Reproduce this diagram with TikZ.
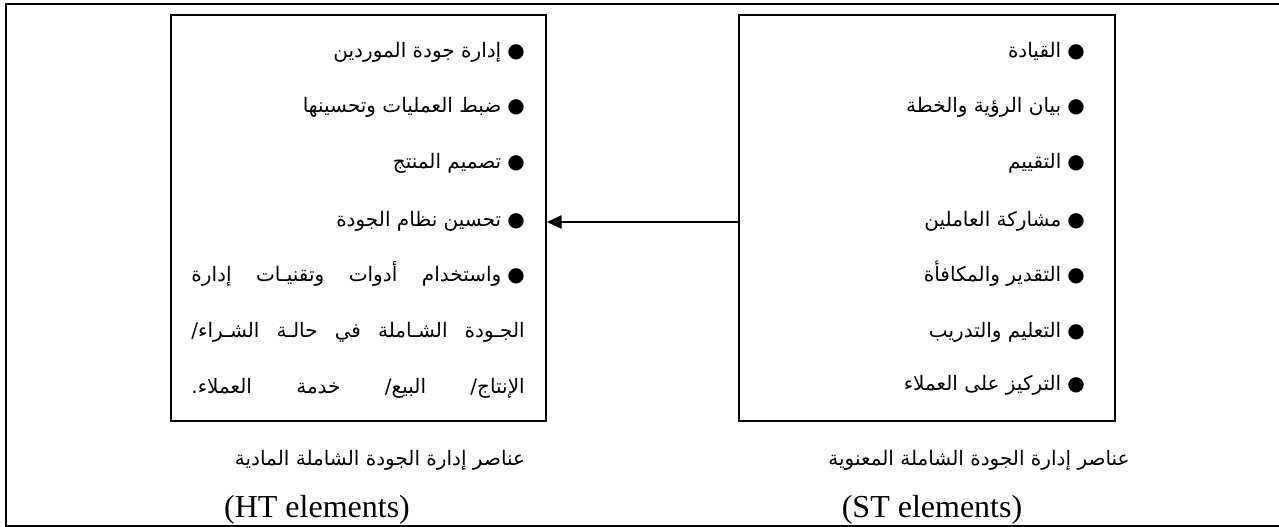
\documentclass[tikz,border=0pt]{standalone}
\usepackage{fontspec}
\setmainfont{Liberation Serif}
\newfontfamily\arabicfont[Script=Arabic]{DejaVu Sans}
\TeXXeTstate=1
\usetikzlibrary{fit,arrows.meta}
% one right-to-left line of Arabic text
\newcommand{\rtl}[1]{\beginR #1\endR}
% a justified right-to-left line of fixed width
\newcommand{\rtlfull}[1]{\makebox[250pt][s]{\beginR #1\endR}}
% list bullet with a fixed gap after it
\newcommand{\itemdot}{●\kern4.5pt}
\begin{document}
\begin{tikzpicture}[x=0.75pt,y=-0.75pt,
  framebox/.style={line width=2.2pt},
  listbox/.style={draw, line width=1.5pt, inner sep=0pt},
  item/.style={anchor=base east, inner sep=0pt,
    font=\arabicfont\fontsize{15}{18}\selectfont},
  capar/.style={anchor=base, inner sep=0pt,
    font=\arabicfont\fontsize{15}{18}\selectfont},
  capen/.style={anchor=base, inner sep=0pt,
    font=\fontsize{24}{28}\selectfont},
  link/.style={line width=1.3pt, -{Triangle[length=11pt,width=10pt]}}]
\useasboundingbox (0,0) rectangle (1279,527);

% outer frame (its right side lies beyond the page)
\draw[framebox] (1290,4) -- (6,4) -- (6,526) -- (1290,526);

% the two boxes
\node[listbox, fit={(171,15) (546,421)}] (ht) {};
\node[listbox, fit={(739,15) (1115,421)}] (st) {};

% soft (ST) elements
\node[item] (s1) at (1085,58)  {\rtl{\itemdot القيادة}};
\node[item] (s2) at (1085,113) {\rtl{\itemdot بيان الرؤية والخطة}};
\node[item] (s3) at (1085,169) {\rtl{\itemdot التقييم}};
\node[item] (s4) at (1085,227) {\rtl{\itemdot مشاركة العاملين}};
\node[item] (s5) at (1085,282) {\rtl{\itemdot التقدير والمكافأة}};
\node[item] (s6) at (1085,338) {\rtl{\itemdot التعليم والتدريب}};
\node[item] (s7) at (1085,391) {\rtl{\itemdot التركيز على العملاء}};

% hard (HT) elements
\node[item] (h1) at (525,58)  {\rtl{\itemdot إدارة جودة الموردين}};
\node[item] (h2) at (525,113) {\rtl{\itemdot ضبط العمليات وتحسينها}};
\node[item] (h3) at (525,169) {\rtl{\itemdot تصميم المنتج}};
\node[item] (h4) at (525,227) {\rtl{\itemdot تحسين نظام الجودة}};
\node[item] (h5) at (525,282) {\rtlfull{\itemdot واستخدام أدوات وتقنيـات إدارة}};
\node[item] (h6) at (525,338) {\rtlfull{الجـودة الشـاملة في حالـة الشـراء/}};
\node[item] (h7) at (525,394) {\rtlfull{الإنتاج/ البيع/ خدمة العملاء.}};

% captions
\node[capar] (sa) at (979,465) {\rtl{عناصر إدارة الجودة الشاملة المعنوية}};
\node[capen] (se) at (932,517) {(ST elements)};
\node[capar] (ha) at (380,465) {\rtl{عناصر إدارة الجودة الشاملة المادية}};
\node[capen] (he) at (317,517) {(HT elements)};

% connector
\draw[link] (st.west |- 0,222) -- (ht.east |- 0,222);
\end{tikzpicture}
\end{document}
